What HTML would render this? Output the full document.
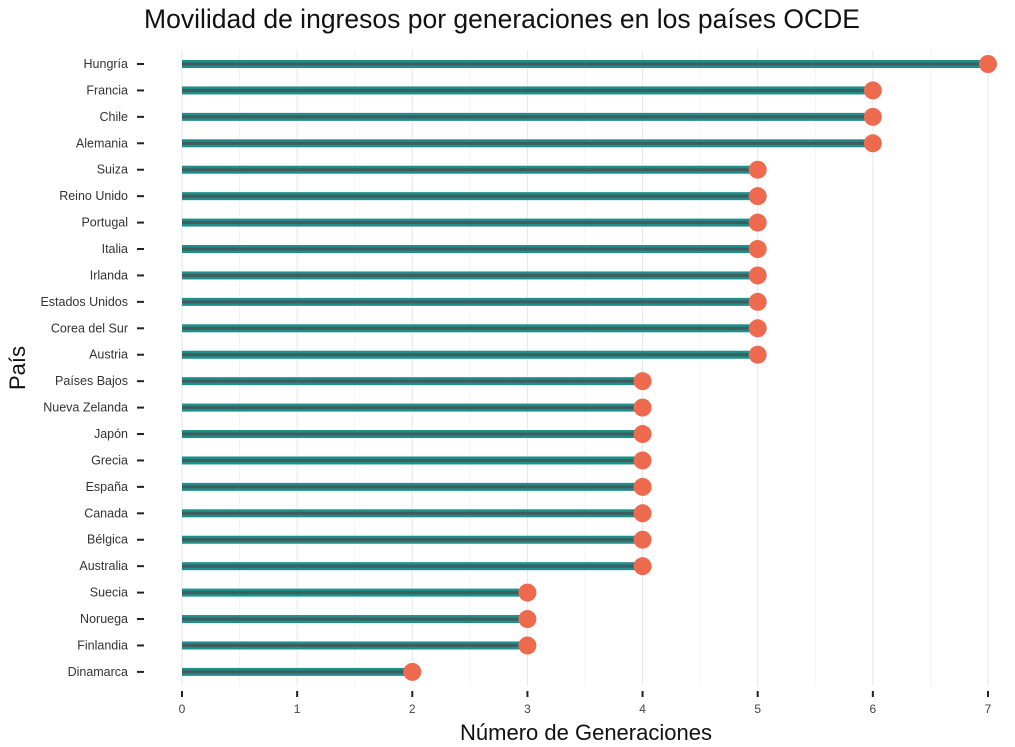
<!DOCTYPE html>
<html><head><meta charset="utf-8"><style>
body{margin:0;background:#fff;font-family:"Liberation Sans",sans-serif}
</style></head><body>
<svg id="chart" width="1015" height="742" xmlns="http://www.w3.org/2000/svg">
<text x="502" y="28" text-anchor="middle" font-size="26.5" fill="#111">Movilidad de ingresos por generaciones en los países OCDE</text>
<text x="586" y="740" text-anchor="middle" font-size="22" fill="#111">Número de Generaciones</text>
<text transform="translate(25,368) rotate(-90)" text-anchor="middle" font-size="22" fill="#111">País</text>
<g id="grid"></g><g id="marks"></g><g id="axes"></g>
</svg>
<script>
const countries=["Hungría","Francia","Chile","Alemania","Suiza","Reino Unido","Portugal","Italia","Irlanda","Estados Unidos","Corea del Sur","Austria","Países Bajos","Nueva Zelanda","Japón","Grecia","España","Canada","Bélgica","Australia","Suecia","Noruega","Finlandia","Dinamarca"];
const values=[7,6,6,6,5,5,5,5,5,5,5,5,4,4,4,4,4,4,4,4,3,3,3,2];
const xTicks=[0,1,2,3,4,5,6,7];
const NS="http://www.w3.org/2000/svg";
const x=v=>182+v*115.14;
const y=i=>64+i*26.43;
function mk(tag,attrs,parent){const e=document.createElementNS(NS,tag);for(const k in attrs)e.setAttribute(k,attrs[k]);parent.appendChild(e);return e;}
const grid=document.getElementById('grid'),marks=document.getElementById('marks'),axes=document.getElementById('axes');
for(let v=0;v<=7.5;v+=0.5){
  const g=mk('line',{x1:x(v),x2:x(v),y1:50,y2:686,stroke:v%1?'#f3f3f3':'#e6e6e6','stroke-width':1},grid);
  
  
}
xTicks.forEach(t=>{
  const tk=mk('line',{x1:x(t),x2:x(t),y1:691,y2:697,stroke:'#222','stroke-width':2},axes);
  
  
  const tl=mk('text',{x:x(t),y:713,'text-anchor':'middle','font-size':12,fill:'#444'},axes);
  tl.textContent=t;
  
  
});
countries.forEach((c,i)=>{
  const yy=y(i);
  const tl=mk('text',{x:128,y:yy+4,'text-anchor':'end','font-size':12.5,fill:'#333'},axes);
  tl.textContent=c;
  
  
  const tk=mk('line',{x1:137,x2:144,y1:yy,y2:yy,stroke:'#222','stroke-width':2},axes);
  
  
  const bar=mk('rect',{x:x(0),y:yy-4,width:x(values[i])-x(0),height:8,fill:'#1f8f8b'},marks);
  
  
  const inner=mk('rect',{x:x(0),y:yy-1.5,width:x(values[i])-x(0),height:3,fill:'#3f5d5e'},marks);
  
  
  const dot=mk('circle',{cx:x(values[i]),cy:yy,r:9,fill:'#ee6a4f'},marks);
  
  
});
</script>
</body></html>
